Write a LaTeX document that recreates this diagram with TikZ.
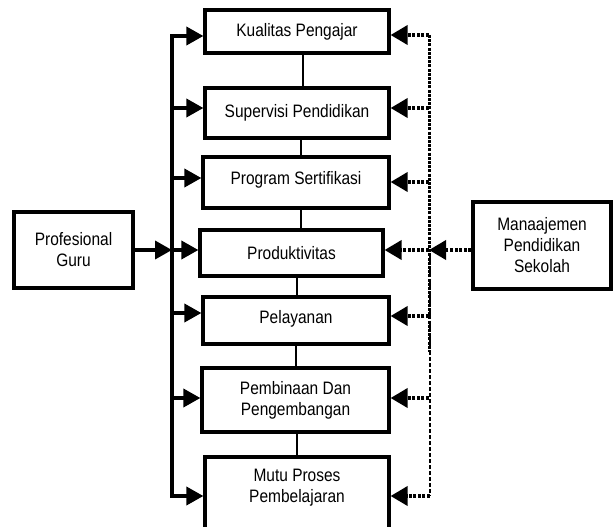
\documentclass[tikz,border=0pt]{standalone}
\usepackage{fontspec}
\setmainfont{Liberation Sans}[FakeStretch=0.86]
\usetikzlibrary{arrows.meta}
\begin{document}
\begin{tikzpicture}[x=1pt,y=-1pt,
  box/.style={draw,line width=3.2pt,inner sep=0pt,align=center,
    font=\fontsize{18}{21}\selectfont},
  boxtext/.style={inner sep=0pt,align=center,font=\fontsize{18}{21}\selectfont},
  link/.style={line width=2.4pt},
  bus/.style={line width=3.2pt,line cap=rect},
  feed/.style={line width=3.6pt,-{Triangle[length=17pt,width=18pt]}},
  dotfeed/.style={line width=3.6pt,dash pattern=on 3pt off 1.6pt,
    -{Triangle[length=17pt,width=19pt]}},
  dotbus/.style={line width=3pt,dash pattern=on 3pt off 1.2pt},
  thinbus/.style={line width=1.1pt,dash pattern=on 4pt off 2pt}]
\clip (0,0) rectangle (613,527);
\fill[white] (0,0) rectangle (613,527);

% central chain of boxes
\node[box,minimum width=184pt,minimum height=43pt] (kp) at (297,31.5) {Kualitas Pengajar};
\node[box,minimum width=184pt,minimum height=50pt] (sp) at (297,113) {Supervisi Pendidikan};
\node[box,minimum width=186pt,minimum height=51pt,text height=8pt] (ps) at (296,182.5) {Program Sertifikasi};
\node[box,minimum width=183pt,minimum height=46pt] (pr) at (291.5,253) {Produktivitas};
\node[box,minimum width=186pt,minimum height=47pt,text height=10pt] (pl) at (296,320.5) {Pelayanan};
\node[box,minimum width=187pt,minimum height=64pt] (pb) at (295.5,400) {Pembinaan Dan\\Pengembangan};
\node[box,minimum width=184pt,minimum height=88pt] (mp) at (297,501) {};
\node[boxtext] (mptext) at (297,487.5) {Mutu Proses\\Pembelajaran};

% side boxes
\node[box,minimum width=119pt,minimum height=76pt] (pg) at (73.5,250) {Profesional\\Guru};
\node[box,minimum width=138pt,minimum height=87pt] (mj) at (542,245.5) {Manaajemen\\Pendidikan\\Sekolah};

% links between neighbouring boxes
\draw[link] ([xshift=6pt]kp.south) -- ([xshift=6pt]kp.south |- sp.north);
\draw[link] ([xshift=4pt]sp.south) -- ([xshift=4pt]sp.south |- ps.north);
\draw[link] ([xshift=5pt]ps.south) -- ([xshift=5pt]ps.south |- pr.north);
\draw[link] ([xshift=5.5pt]pr.south) -- ([xshift=5.5pt]pr.south |- pl.north);
\draw[link] (pl.south) -- (pl.south |- pb.north);
\draw[link] ([xshift=1.5pt]pb.south) -- ([xshift=1.5pt]pb.south |- mp.north);

% left distribution bus
\coordinate (l1) at (172,36);
\coordinate (l2) at (172,108);
\coordinate (l3) at (172,178);
\coordinate (l4) at (172,250);
\coordinate (l5) at (172,313);
\coordinate (l6) at (172,398);
\coordinate (l7) at (172,496);
\draw[bus] (l1) -- (l7);
\draw[feed] (l1) -- (l1 -| kp.west);
\draw[feed] (l2) -- (l2 -| sp.west);
\draw[feed] (l3) -- (l3 -| ps.west);
\draw[feed] (l4) -- (l4 -| pr.west);
\draw[feed] (l5) -- (l5 -| pl.west);
\draw[feed] (l6) -- (l6 -| pb.west);
\draw[feed] (l7) -- (l7 -| mp.west);
\draw[feed] (pg.east) -- (l4);

% right distribution bus
\coordinate (r1) at (429,35);
\coordinate (r2) at (429,108);
\coordinate (r3) at (429,182);
\coordinate (r4) at (429,250);
\coordinate (r5) at (429,316);
\coordinate (r6) at (429,398);
\coordinate (r7) at (430,496);
\coordinate (rmid) at (429,352);
\coordinate (rthin) at (430,255);
\draw[dotbus] (r1) -- (rmid);
\draw[thinbus] (rthin) -- (r7);
\draw[dotfeed] (r1) -- (r1 -| kp.east);
\draw[dotfeed] (r2) -- (r2 -| sp.east);
\draw[dotfeed] (r3) -- (r3 -| ps.east);
\draw[dotfeed] (r4) -- (r4 -| pr.east);
\draw[dotfeed] (r5) -- (r5 -| pl.east);
\draw[dotfeed] (r6) -- (r6 -| pb.east);
\draw[dotfeed] (r7) -- (r7 -| mp.east);
\draw[dotfeed] (r4 -| mj.west) -- (r4);
\end{tikzpicture}
\end{document}
